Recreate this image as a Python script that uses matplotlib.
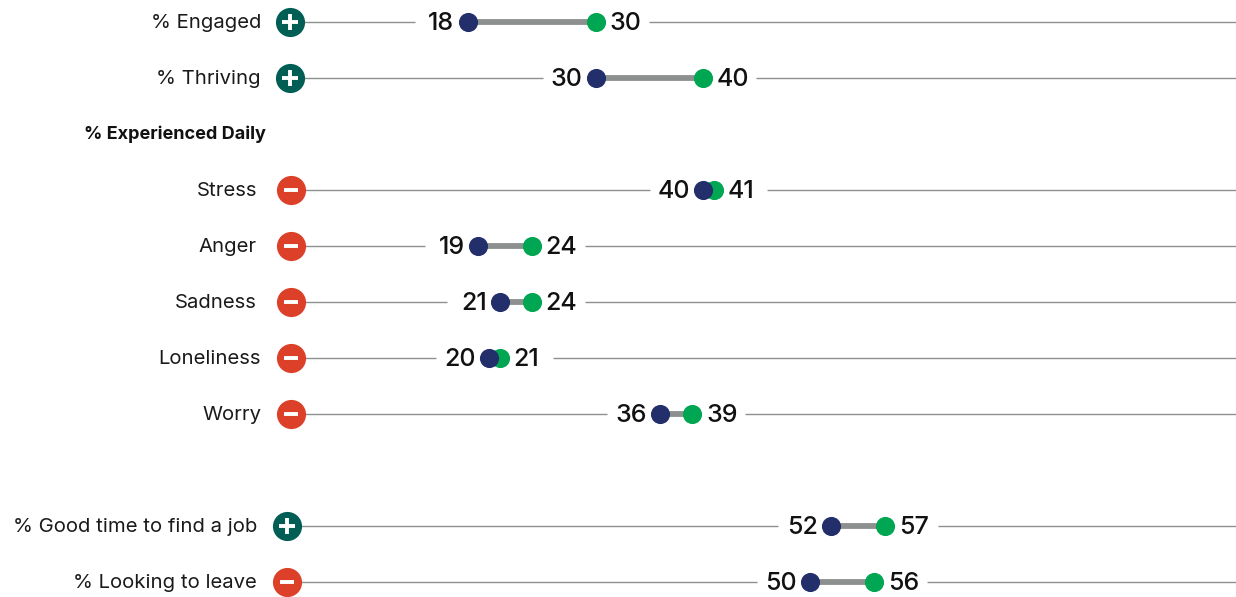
import matplotlib
matplotlib.use("Agg")
import matplotlib.pyplot as plt

plt.rcParams["font.family"] = ["Inter", "DejaVu Sans"]

labels = ["% Engaged", "% Thriving", "Stress", "Anger", "Sadness", "Loneliness", "Worry",
          "% Good time to find a job", "% Looking to leave"]
rows = [0, 1, 3, 4, 5, 6, 7, 9, 10]
low = [18, 30, 40, 19, 21, 20, 36, 52, 50]
high = [30, 40, 41, 24, 24, 21, 39, 57, 56]
signs = ["+", "+", "-", "-", "-", "-", "-", "+", "-"]
header = "% Experienced Daily"
header_row = 2

navy = "#232f6b"
green = "#00a651"
teal = "#005e54"
red = "#dc4028"
gray = "#8c908e"

# pixels per percentage point, 0 sits near x=275
ppu = 10.7
zero = 275
icon_x = [290, 290, 291, 291, 291, 291, 291, 287, 287]
label_right = [261, 261, 257, 257, 257, 261, 261, 257, 257]


def px(p):
    return (p - zero) / ppu


fig = plt.figure(figsize=(12.36, 5.97), dpi=100)
ax = fig.add_axes([0, 0, 1, 1])
ax.set_xlim(px(0), px(1236))
ax.set_ylim((597 - 22) / 56, -22 / 56)
ax.axis("off")

gap = 53 / ppu
for i in range(len(labels)):
    r = rows[i]
    ix = px(icon_x[i])
    # thin rule, broken around the values
    ax.plot([ix, low[i] - gap], [r, r], color=gray, lw=1, zorder=1, solid_capstyle="butt")
    ax.plot([high[i] + gap, px(1236)], [r, r], color=gray, lw=1, zorder=1, solid_capstyle="butt")
    ax.plot([low[i], high[i]], [r, r], color=gray, lw=4.2, zorder=2, solid_capstyle="butt")
    ax.scatter(high[i], r, s=190, color=green, zorder=3, linewidths=0)
    ax.scatter(low[i], r, s=190, color=navy, zorder=4, linewidths=0)

    ax.annotate(str(low[i]), (low[i], r), xytext=(-9.5, -1), textcoords="offset points",
                ha="right", va="center", fontsize=18, fontweight="medium", color="#111111")
    ax.annotate(str(high[i]), (high[i], r), xytext=(10, -1), textcoords="offset points",
                ha="left", va="center", fontsize=18, fontweight="medium", color="#111111")

    col = teal if signs[i] == "+" else red
    ax.scatter(ix, r, s=440, color=col, zorder=5, linewidths=0)
    if signs[i] == "+":
        ax.scatter(ix, r, s=130, marker="+", color="white", linewidths=2.8, zorder=6)
    else:
        ax.scatter(ix, r, s=110, marker="_", color="white", linewidths=2.8, zorder=6)

    ax.text(px(label_right[i]), r + 0.015, labels[i], ha="right", va="center",
            fontsize=14.6, fontweight="normal", color="#1a1a1a")

ax.text(px(266), header_row, header, ha="right", va="center", fontsize=13,
        fontweight="bold", color="#111111")

fig.savefig("out.png", dpi=100)
